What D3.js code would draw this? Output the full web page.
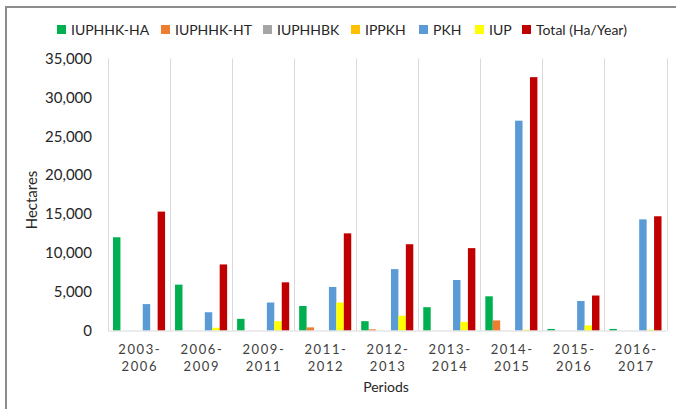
<!DOCTYPE html>
<html><head><meta charset="utf-8">
<script src="https://cdn.jsdelivr.net/npm/d3@7"></script>
<style>
html,body{margin:0;padding:0;background:#fff;}
svg{display:block;}
text{font-family:Lato,"Open Sans",sans-serif;}
</style></head>
<body>
<svg id="chart" width="676" height="409"></svg>
<script>
const periods = ["2003-2006","2006-2009","2009-2011","2011-2012","2012-2013","2013-2014","2014-2015","2015-2016","2016-2017"];
const seriesNames = ["IUPHHK-HA","IUPHHK-HT","IUPHHBK","IPPKH","PKH","IUP","Total (Ha/Year)"];
const seriesColors = ["#00B050","#ED7D31","#A5A5A5","#FFC000","#5B9BD5","#FFFF00","#C00000"];
const iuphhkHA = [12000, 5900, 1500, 3150, 1200, 3000, 4400, 200, 200];
const iuphhkHT = [0, 0, 0, 400, 150, 0, 1300, 0, 0];
const iuphhbk  = [0, 0, 0, 0, 0, 0, 0, 0, 0];
const ippkh    = [0, 0, 0, 0, 0, 0, 0, 0, 0];
const pkh      = [3400, 2350, 3600, 5600, 7900, 6500, 27000, 3800, 14300];
const iup      = [0, 350, 1200, 3600, 1900, 1100, 100, 650, 100];
const total    = [15300, 8500, 6200, 12500, 11100, 10600, 32600, 4500, 14700];
const yTicks   = [0, 5000, 10000, 15000, 20000, 25000, 30000, 35000];

const seriesValues = [iuphhkHA, iuphhkHT, iuphhbk, ippkh, pkh, iup, total];

const svg = d3.select("#chart");

// outer border (top & left visible)
svg.append("rect").attr("x",6).attr("y",7).attr("width",700).attr("height",420)
  .attr("fill","none").attr("stroke","#8c8c8c").attr("stroke-width",2);

const plot = {left:108, right:666.5, top:58.5, bottom:330.5};

const x0 = d3.scaleBand().domain(periods).range([plot.left, plot.right]).paddingInner(0).paddingOuter(0);
const x1 = d3.scaleBand().domain(seriesNames).range([0, x0.bandwidth()]).paddingInner(0).paddingOuter(0.67);
const y = d3.scaleLinear().domain([0, 35000]).range([plot.bottom, plot.top]);

// vertical category gridlines
const bounds = periods.map(p => x0(p)).concat([plot.right]);
svg.append("g").selectAll("line").data(bounds).join("line")
  .attr("x1", d => Math.round(d)+0.5).attr("x2", d => Math.round(d)+0.5)
  .attr("y1", plot.top).attr("y2", plot.bottom)
  .attr("stroke","#d9d9d9").attr("stroke-width",1);

// bars
const g = svg.append("g");
periods.forEach((p, i) => {
  seriesNames.forEach((s, j) => {
    const v = seriesValues[j][i];
    if (v <= 0) return;
    g.append("rect")
      .attr("x", x0(p) + x1(s))
      .attr("y", y(v))
      .attr("width", x1.bandwidth())
      .attr("height", y(0) - y(v))
      .attr("fill", seriesColors[j]);
  });
});

// baseline
svg.append("line").attr("x1",plot.left).attr("x2",plot.right)
  .attr("y1",plot.bottom+0.5).attr("y2",plot.bottom+0.5)
  .attr("stroke","#d9d9d9").attr("stroke-width",1);

// y axis labels
const yAxis = d3.axisLeft(y).tickValues(yTicks).tickFormat(d3.format(",")).tickSize(0).tickPadding(0);
const ya = svg.append("g").attr("transform",`translate(${92},0)`).call(yAxis);
ya.select(".domain").remove();
ya.selectAll("text").attr("font-size","15px").attr("fill","#262626")
  .attr("font-family","Lato, sans-serif");

// x axis labels (two lines)
const xa = svg.append("g");
periods.forEach(p => {
  const parts = p.split("-");
  const cx = x0(p) + x0.bandwidth()/2;
  const t = xa.append("text").attr("text-anchor","middle")
    .attr("font-size","13px").attr("fill","#404040").attr("letter-spacing","1.6px");
  t.append("tspan").attr("x", cx + 0.8).attr("y", 354).text(parts[0] + "-");
  t.append("tspan").attr("x", cx + 0.8).attr("y", 371).text(parts[1]);
});

// axis titles
svg.append("text").attr("x",386).attr("y",392).attr("text-anchor","middle")
  .attr("font-size","14px").attr("fill","#262626").text("Periods");
svg.append("text").attr("transform","translate(37,200) rotate(-90)").attr("text-anchor","middle")
  .attr("font-size","15px").attr("fill","#262626").text("Hectares");

// legend
const legX = [57, 161, 263, 351, 419, 475, 522];
const leg = svg.append("g");
seriesNames.forEach((s, j) => {
  leg.append("rect").attr("x", legX[j]).attr("y", 25).attr("width", 9).attr("height", 9).attr("fill", seriesColors[j]);
  leg.append("text").attr("x", legX[j] + 14).attr("y", 35).attr("font-size","14px").attr("fill","#262626").text(s);
});
</script>
</body></html>
